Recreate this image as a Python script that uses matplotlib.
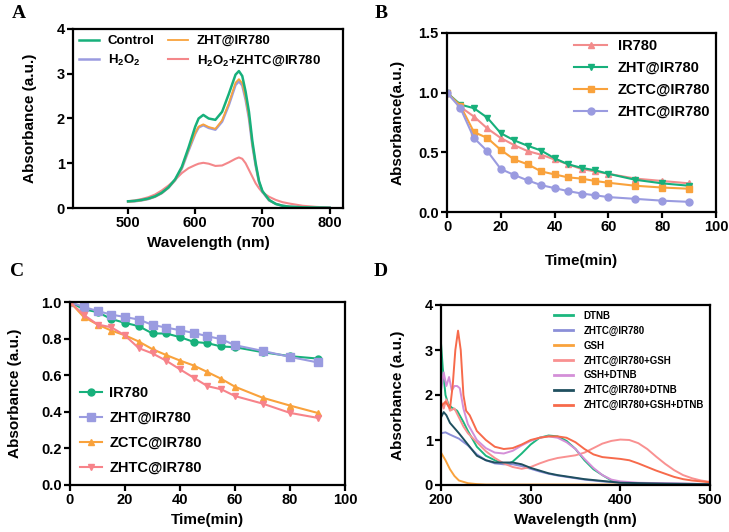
import numpy as np
import matplotlib
matplotlib.use("Agg")
import matplotlib.pyplot as plt

plt.rcParams['font.family'] = ['Liberation Sans', 'DejaVu Sans']
plt.rcParams['font.weight'] = 'bold'
plt.rcParams['axes.labelweight'] = 'bold'
plt.rcParams['axes.linewidth'] = 1.6
plt.rcParams['xtick.major.width'] = 1.6
plt.rcParams['ytick.major.width'] = 1.6
plt.rcParams['xtick.major.size'] = 4
plt.rcParams['ytick.major.size'] = 4
plt.rcParams['mathtext.fontset'] = 'custom'
plt.rcParams['mathtext.rm'] = 'Liberation Sans:bold'
plt.rcParams['mathtext.bf'] = 'Liberation Sans:bold'
plt.rcParams['mathtext.default'] = 'bf'

# ---- panel A: UV-vis spectra ----
wl_a = [500, 510, 520, 530, 540, 550, 560, 570, 580, 590, 600, 605, 612, 620, 630,
        640, 650, 660, 665, 670, 675, 680, 685, 690, 695, 700, 710, 720, 730, 740,
        760, 780, 800]
a_control = [0.15, 0.16, 0.18, 0.21, 0.26, 0.34, 0.46, 0.64, 0.92, 1.35, 1.82, 2.0, 2.08,
             2.0, 1.97, 2.15, 2.55, 2.98, 3.06, 2.95, 2.6, 2.15, 1.5, 1.0, 0.6, 0.38,
             0.18, 0.09, 0.05, 0.03, 0.015, 0.01, 0.005]
a_h2o2 = [0.14, 0.15, 0.17, 0.2, 0.25, 0.33, 0.45, 0.62, 0.88, 1.28, 1.66, 1.8, 1.85,
          1.79, 1.75, 1.93, 2.3, 2.75, 2.83, 2.74, 2.42, 2.0, 1.4, 0.94, 0.57, 0.36,
          0.17, 0.09, 0.05, 0.03, 0.015, 0.01, 0.005]
a_zht = [0.14, 0.15, 0.17, 0.2, 0.25, 0.33, 0.45, 0.62, 0.89, 1.3, 1.68, 1.82, 1.87,
         1.81, 1.77, 1.96, 2.34, 2.8, 2.88, 2.79, 2.46, 2.03, 1.42, 0.95, 0.58, 0.37,
         0.17, 0.09, 0.05, 0.03, 0.015, 0.01, 0.005]
a_h2o2_zhtc = [0.15, 0.17, 0.2, 0.24, 0.3, 0.39, 0.5, 0.63, 0.78, 0.89, 0.96, 0.99, 1.01,
               0.99, 0.94, 0.95, 1.02, 1.1, 1.13, 1.1, 1.0, 0.85, 0.7, 0.55, 0.44, 0.35,
               0.25, 0.18, 0.13, 0.1, 0.05, 0.025, 0.01]

# ---- panel B: degradation (H2O2) ----
t_b = [0, 5, 10, 15, 20, 25, 30, 35, 40, 45, 50, 55, 60, 70, 80, 90]
b_ir780 = [1.0, 0.88, 0.80, 0.70, 0.62, 0.56, 0.51, 0.48, 0.44, 0.40, 0.36, 0.34, 0.32, 0.28, 0.26, 0.24]
b_zht = [1.0, 0.90, 0.87, 0.79, 0.66, 0.60, 0.555, 0.515, 0.45, 0.40, 0.37, 0.35, 0.32, 0.27, 0.24, 0.22]
b_zctc = [1.0, 0.89, 0.67, 0.62, 0.52, 0.44, 0.40, 0.34, 0.315, 0.29, 0.28, 0.26, 0.245, 0.22, 0.205, 0.195]
b_zhtc = [1.0, 0.87, 0.62, 0.51, 0.36, 0.31, 0.265, 0.225, 0.20, 0.175, 0.155, 0.14, 0.125, 0.11, 0.095, 0.085]

# ---- panel C: degradation (light) ----
t_c = [0, 5, 10, 15, 20, 25, 30, 35, 40, 45, 50, 55, 60, 70, 80, 90]
c_ir780 = [1.0, 0.96, 0.945, 0.907, 0.886, 0.868, 0.828, 0.828, 0.808, 0.782, 0.775, 0.757, 0.753, 0.726, 0.704, 0.691]
c_zht = [1.0, 0.973, 0.951, 0.931, 0.918, 0.904, 0.875, 0.86, 0.846, 0.831, 0.813, 0.797, 0.764, 0.733, 0.70, 0.67]
c_zctc = [1.0, 0.918, 0.877, 0.844, 0.818, 0.784, 0.742, 0.71, 0.68, 0.653, 0.617, 0.58, 0.537, 0.477, 0.434, 0.394]
c_zhtc = [1.0, 0.93, 0.877, 0.862, 0.817, 0.748, 0.719, 0.679, 0.632, 0.586, 0.54, 0.523, 0.486, 0.445, 0.394, 0.367]

# ---- panel D: GSH / DTNB spectra ----
d_dtnb_x = [200, 202, 205, 208, 212, 218, 225, 230, 240, 250, 260, 270, 275, 280, 290, 300,
            310, 320, 330, 340, 350, 360, 370, 380, 390, 400, 420, 500]
d_dtnb = [3.15, 2.6, 2.0, 1.8, 1.72, 1.65, 1.4, 1.2, 0.85, 0.65, 0.55, 0.48, 0.47, 0.52, 0.7,
          0.9, 1.05, 1.1, 1.08, 0.98, 0.8, 0.55, 0.35, 0.22, 0.1, 0.05, 0.02, 0.02]
d_zhtc_x = [200, 205, 210, 220, 230, 240, 250, 260, 270, 280, 290, 300, 310, 320, 330, 340,
            350, 360, 380, 400, 450, 500]
d_zhtc = [1.15, 1.17, 1.12, 1.03, 0.88, 0.68, 0.55, 0.48, 0.46, 0.46, 0.42, 0.36, 0.3, 0.25,
          0.21, 0.18, 0.15, 0.12, 0.08, 0.05, 0.03, 0.02]
d_gsh_x = [200, 205, 210, 215, 220, 230, 240, 250, 500]
d_gsh = [0.72, 0.55, 0.35, 0.2, 0.1, 0.04, 0.02, 0.01, 0.01]
d_zhtc_gsh_x = [200, 203, 206, 210, 215, 220, 225, 230, 240, 250, 260, 270, 280, 290, 300, 310,
                320, 330, 340, 350, 360, 370, 380, 390, 400, 410, 420, 430, 440, 450, 460,
                470, 480, 490, 500]
d_zhtc_gsh = [1.85, 1.7, 1.9, 1.65, 1.7, 1.5, 1.3, 1.15, 0.95, 0.75, 0.6, 0.48, 0.4, 0.36, 0.4,
              0.48, 0.55, 0.6, 0.63, 0.66, 0.72, 0.82, 0.92, 0.98, 1.01, 1.0, 0.93, 0.8, 0.63,
              0.47, 0.33, 0.22, 0.15, 0.1, 0.07]
d_gsh_dtnb_x = [200, 203, 206, 209, 212, 215, 218, 221, 225, 230, 240, 250, 260, 270, 280, 290,
                300, 310, 320, 330, 340, 350, 360, 370, 380, 390, 400, 420, 500]
d_gsh_dtnb = [2.1, 2.5, 2.2, 2.4, 2.1, 2.2, 2.2, 2.15, 1.7, 1.35, 1.0, 0.82, 0.72, 0.7, 0.76,
              0.88, 0.98, 1.05, 1.08, 1.05, 0.95, 0.8, 0.58, 0.38, 0.22, 0.12, 0.08, 0.05, 0.02]
d_zhtc_dtnb_x = [200, 203, 206, 210, 220, 230, 240, 250, 260, 270, 280, 290, 300, 310, 320, 330,
                 340, 350, 360, 380, 400, 450, 500]
d_zhtc_dtnb = [1.5, 1.62, 1.55, 1.38, 1.15, 0.9, 0.65, 0.55, 0.5, 0.5, 0.5, 0.46, 0.38, 0.32,
               0.26, 0.22, 0.19, 0.16, 0.13, 0.09, 0.05, 0.03, 0.02]
d_all_x = [200, 205, 210, 213, 216, 219, 222, 225, 228, 232, 240, 250, 260, 270, 280, 290, 300,
           310, 320, 330, 340, 350, 360, 370, 380, 390, 400, 410, 420, 430, 440, 450, 460,
           470, 480, 490, 500]
d_all = [1.75, 1.85, 1.7, 2.2, 3.0, 3.43, 3.0, 2.0, 1.65, 1.55, 1.2, 1.0, 0.85, 0.8, 0.82, 0.9,
         1.0, 1.05, 1.08, 1.08, 1.05, 0.95, 0.8, 0.68, 0.62, 0.6, 0.58, 0.55, 0.48, 0.4, 0.32,
         0.25, 0.18, 0.13, 0.1, 0.08, 0.06]

GREEN = '#17b07b'
PURPLE = '#9a9be0'
ORANGE = '#f9a23c'
PINK = '#f4878a'

W, H = 729, 532
fig = plt.figure(figsize=(W / 100, H / 100), dpi=100)


def add_ax(left, top, right, bottom):
    return fig.add_axes([left / W, 1 - bottom / H, (right - left) / W, (bottom - top) / H])


def style(ax):
    for lab in ax.get_xticklabels() + ax.get_yticklabels():
        lab.set_fontweight('bold')
    ax.tick_params(labelsize=10.5, pad=2)


def panel_letter(x, y, s):
    fig.text(x / W, 1 - y / H, s, family='Liberation Serif', fontweight='bold',
             fontsize=14, va='center')


# A
ax = add_ax(73, 29, 343, 208)
la4, = ax.plot(wl_a, a_h2o2_zhtc, color=PINK, lw=1.5, label='H$_2$O$_2$+ZHTC@IR780')
la2, = ax.plot(wl_a, a_h2o2, color=PURPLE, lw=1.8, label='H$_2$O$_2$')
la3, = ax.plot(wl_a, a_zht, color=ORANGE, lw=1.3, label='ZHT@IR780')
la1, = ax.plot(wl_a, a_control, color=GREEN, lw=1.8, label='Control')
ax.set_xlim(418, 820)
ax.set_ylim(0, 4)
ax.set_xticks([500, 600, 700, 800])
ax.set_yticks([0, 1, 2, 3, 4])
ax.set_xlabel('Wavelength (nm)', fontsize=11)
ax.set_ylabel('Absorbance (a.u.)', fontsize=11, labelpad=14)
ax.legend(handles=[la1, la2, la3, la4], ncol=2, loc='upper left', frameon=False,
          fontsize=9.5, handlelength=1.5, columnspacing=1.0, borderaxespad=0.05,
          labelspacing=0.45, handletextpad=0.7)
style(ax)
panel_letter(12, 14, 'A')

# B
ax = add_ax(447, 33, 716, 212)
ax.plot(t_b, b_ir780, color='#f28c8c', marker='^', ms=5, lw=1.5, label='IR780')
ax.plot(t_b, b_zht, color=GREEN, marker='v', ms=5, lw=1.5, label='ZHT@IR780')
ax.plot(t_b, b_zctc, color=ORANGE, marker='s', ms=5, lw=1.5, label='ZCTC@IR780')
ax.plot(t_b, b_zhtc, color=PURPLE, marker='o', ms=5, lw=1.5, label='ZHTC@IR780')
ax.set_xlim(0, 100)
ax.set_ylim(0, 1.5)
ax.set_xticks([0, 20, 40, 60, 80, 100])
ax.set_yticks([0.0, 0.5, 1.0, 1.5])
ax.set_xlabel('Time(min)', fontsize=11, labelpad=14)
ax.set_ylabel('Absorbance(a.u.)', fontsize=11, labelpad=10)
ax.legend(loc='upper right', bbox_to_anchor=(1.0, 1.0), frameon=False, fontsize=10.5,
          handlelength=2.3, labelspacing=0.55, borderaxespad=0.0, handletextpad=0.7)
style(ax)
panel_letter(375, 14, 'B')

# C
ax = add_ax(70, 302, 345, 485)
ax.plot(t_c, c_ir780, color=GREEN, marker='o', ms=5, lw=1.5, label='IR780')
ax.plot(t_c, c_zht, color=PURPLE, marker='s', ms=5.5, lw=1.5, label='ZHT@IR780')
ax.plot(t_c, c_zctc, color=ORANGE, marker='^', ms=5, lw=1.5, label='ZCTC@IR780')
ax.plot(t_c, c_zhtc, color='#f7838a', marker='v', ms=5, lw=1.5, label='ZHTC@IR780')
ax.set_xlim(0, 100)
ax.set_ylim(0, 1.0)
ax.set_xticks([0, 20, 40, 60, 80, 100])
ax.set_yticks([0.0, 0.2, 0.4, 0.6, 0.8, 1.0])
ax.set_xlabel('Time(min)', fontsize=11)
ax.set_ylabel('Absorbance (a.u.)', fontsize=11, labelpad=14)
ax.legend(loc='lower left', frameon=False, fontsize=10.5, handlelength=1.5,
          labelspacing=0.75, borderaxespad=0.3, handletextpad=0.5)
style(ax)
panel_letter(10, 272, 'C')

# D
ax = add_ax(441, 305, 710, 485)
ax.plot(d_dtnb_x, d_dtnb, color='#1cb77e', lw=1.4, label='DTNB')
ax.plot(d_zhtc_x, d_zhtc, color='#8b8fd8', lw=1.4, label='ZHTC@IR780')
ax.plot(d_gsh_x, d_gsh, color=ORANGE, lw=1.4, label='GSH')
ax.plot(d_zhtc_gsh_x, d_zhtc_gsh, color='#f99191', lw=1.4, label='ZHTC@IR780+GSH')
ax.plot(d_gsh_dtnb_x, d_gsh_dtnb, color='#d48fd8', lw=1.4, label='GSH+DTNB')
ax.plot(d_zhtc_dtnb_x, d_zhtc_dtnb, color='#1f4f5f', lw=1.4, label='ZHTC@IR780+DTNB')
ax.plot(d_all_x, d_all, color='#f76a4b', lw=1.4, label='ZHTC@IR780+GSH+DTNB')
ax.set_xlim(200, 500)
ax.set_ylim(0, 4)
ax.set_xticks([200, 300, 400, 500])
ax.set_yticks([0, 1, 2, 3, 4])
ax.set_xlabel('Wavelength (nm)', fontsize=11)
ax.set_ylabel('Absorbance (a.u.)', fontsize=11, labelpad=14)
leg = ax.legend(loc='upper right', bbox_to_anchor=(1.0, 1.0), frameon=False, fontsize=7,
                handlelength=2.0, labelspacing=0.5, handletextpad=1.1, borderaxespad=0.2)
for ln in leg.get_lines():
    ln.set_linewidth(2.0)
style(ax)
panel_letter(374, 272, 'D')

fig.savefig('out.png', dpi=100)
